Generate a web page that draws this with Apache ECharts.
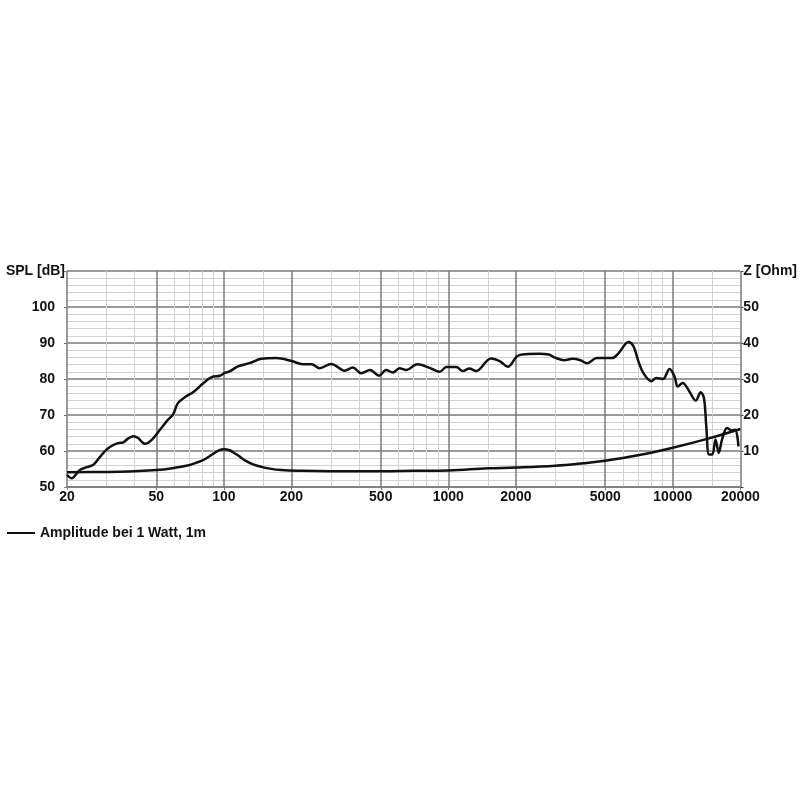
<!DOCTYPE html>
<html>
<head>
<meta charset="utf-8">
<script src="https://cdn.jsdelivr.net/npm/echarts@6/dist/echarts.min.js"></script>
<style>html,body{margin:0;padding:0;background:#fff}#c{width:800px;height:800px}</style>
</head>
<body>
<div id="c"></div>
<script>
// Frequency response (SPL, dB) — [Hz, dB]
const splFreq = [20,21,22,22.9,24.5,26.2,28,30,32,33.8,35.6,37.5,39.5,41.5,43,44.5,47.7,51.9,56.4,59.3,62.4,68,72.9,81.2,88.2,95.9,101,106,115.6,130,147,171,200,225,246,267,301,345,375,409,448,491,528,566,606,649,727,826,915,980,1085,1160,1240,1330,1550,1700,1840,2030,2210,2530,2800,2970,3290,3570,3880,4150,4590,5370,5740,6350,6680,7030,7390,8030,8450,9040,9680,10180,10530,11070,11840,12660,13310,13770,14100,14500,14990,15500,16030,16580,17440,18340,18970,19620];
const splValues = [53.4,52.4,53.6,54.8,55.5,56.2,58.3,60.4,61.6,62.2,62.4,63.5,64.1,63.6,62.6,62.0,63.1,65.9,68.7,70.1,73.3,75.2,76.3,78.9,80.5,80.9,81.7,82.1,83.5,84.4,85.6,85.8,85.0,84.1,84.1,83.0,84.2,82.3,83.2,81.6,82.5,80.9,82.5,81.8,83.0,82.5,84.1,83.1,82.0,83.3,83.3,82.2,82.9,82.2,85.7,84.9,83.4,86.4,86.9,87.0,86.8,86.0,85.2,85.6,85.2,84.4,85.8,85.8,87.2,90.3,89.1,84.9,81.7,79.4,80.3,80.0,82.8,80.7,77.9,78.9,76.6,74.0,76.3,74.7,66.9,59.0,59.0,63.2,59.5,63.2,66.4,65.7,65.9,61.3];
// Impedance (Ohm) — [Hz, Ohm]
const zFreq = [20,30,40,50,60,68,75,81,89,95,100,106,112,118,124,135,147,160,180,220,300,500,700,1000,1500,2000,3000,4000,5000,7000,10000,14500,20000];
const zValues = [4.1,4.2,4.4,4.7,5.3,5.9,6.7,7.5,9.1,10.2,10.5,10.2,9.3,8.4,7.4,6.3,5.6,5.1,4.7,4.5,4.4,4.4,4.5,4.6,5.2,5.4,5.9,6.6,7.3,8.8,10.9,13.5,16.1];
// Axis ticks
const xTickLabels = [20,50,100,200,500,1000,2000,5000,10000,20000];
const xMinorLines = [30,40,60,70,80,90,150,300,400,600,700,800,900,1500,3000,4000,6000,7000,8000,9000,15000];
const leftTitle = 'SPL [dB]';
const rightTitle = 'Z [Ohm]';
const legendName = 'Amplitude bei 1 Watt, 1m';

const font = {fontFamily:'Liberation Sans, Arial, sans-serif', fontWeight:'bold', fontSize:14, color:'#111'};
const chart = echarts.init(document.getElementById('c'), null, {renderer:'canvas'});
chart.setOption({
  animation:false,
  backgroundColor:'#fff',
  grid:{left:67, right:59, top:271, bottom:313, containLabel:false},
  legend:{data:[legendName], left:2, top:521, itemWidth:28, itemHeight:14, itemGap:5,
    textStyle:Object.assign({}, font), icon:'path://M0,0L28,0L28,2L0,2Z'},
  xAxis:[
    {type:'log', logBase:10, min:20, max:20000, z:0, position:'bottom',
     axisLine:{show:false}, axisLabel:{show:false}, axisTick:{show:false, customValues:xMinorLines},
     splitLine:{show:true, lineStyle:{color:'#d2d2d2', width:1}}},
    {type:'log', logBase:10, min:20, max:20000, z:1, position:'bottom', offset:0,
     axisLine:{show:true, onZero:false, lineStyle:{color:'#7a7a7a', width:1.5}},
     axisTick:{show:true, length:3, customValues:xTickLabels, lineStyle:{color:'#7a7a7a'}},
     axisLabel:Object.assign({customValues:xTickLabels, margin:3, formatter:v=>String(Math.round(v))}, font),
     splitLine:{show:true, lineStyle:{color:'#7a7a7a', width:1.5}}}
  ],
  yAxis:[
    {type:'value', min:50, max:110, interval:10, position:'left',
     axisLine:{show:false}, axisTick:{show:true, length:3, lineStyle:{color:'#7a7a7a'}},
     axisLabel:Object.assign({margin:2,
       formatter:v=> v>=110 ? '{t|'+leftTitle+'}' : '{n|'+v+'}',
       rich:{t:Object.assign({}, font), n:Object.assign({padding:[0,10,0,0]}, font)}}, font),
     splitLine:{show:true, lineStyle:{color:'#7a7a7a', width:1.5}},
     minorTick:{show:false, splitNumber:5},
     minorSplitLine:{show:true, lineStyle:{color:'#d2d2d2', width:1}}},
    {type:'value', min:0, max:60, interval:10, position:'right',
     axisLine:{show:false}, axisTick:{show:true, length:3, lineStyle:{color:'#333'}},
     axisLabel:Object.assign({margin:3, formatter:v=> v<=0 ? '' : (v>=60 ? rightTitle : String(v))}, font),
     splitLine:{show:false}}
  ],
  series:[
    {name:legendName, type:'line', xAxisIndex:1, yAxisIndex:0, symbol:'none', smooth:0.35,
     lineStyle:{color:'#111', width:2.5}, itemStyle:{color:'#111'},
     data:splFreq.map((f,i)=>[f, splValues[i]])},
    {name:'Z', type:'line', xAxisIndex:1, yAxisIndex:1, symbol:'none', smooth:0.4,
     lineStyle:{color:'#111', width:2.5}, itemStyle:{color:'#111'},
     data:zFreq.map((f,i)=>[f, zValues[i]])}
  ]
});
</script>
</body>
</html>
